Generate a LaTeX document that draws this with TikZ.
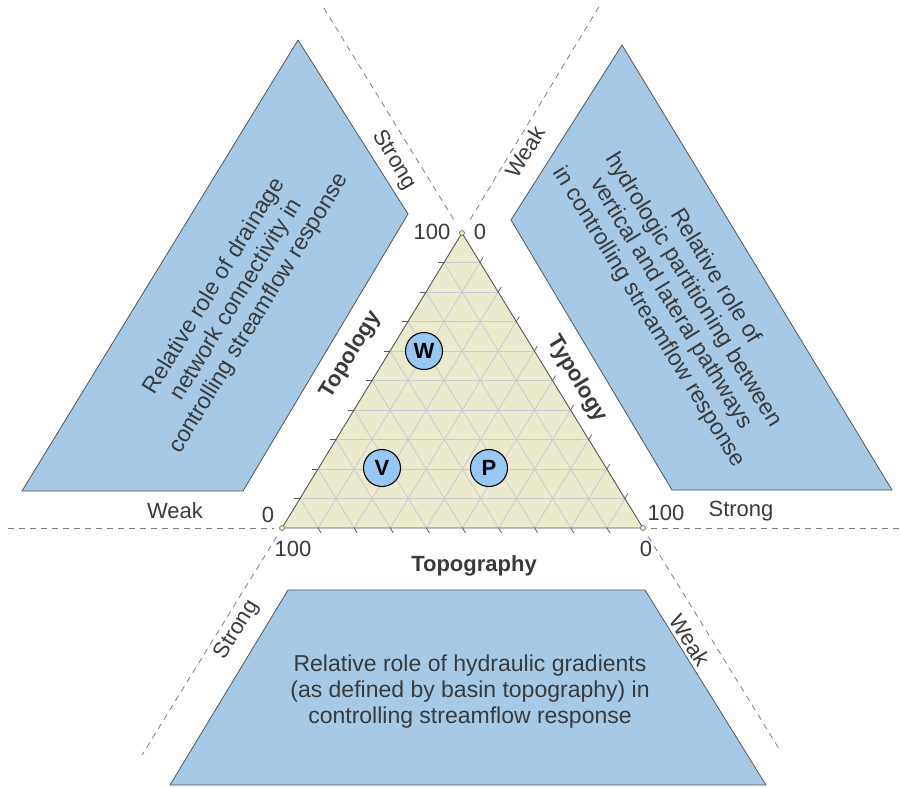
\documentclass[tikz,border=0pt]{standalone}
\usepackage{fontspec}
\setmainfont{Liberation Sans}
\usetikzlibrary{positioning}
\usetikzlibrary{calc}
\definecolor{roleblue}{RGB}{166,202,230}
\definecolor{basinblue}{RGB}{150,200,245}
\definecolor{ternfill}{RGB}{236,234,205}
\definecolor{gridgray}{RGB}{198,201,214}
\definecolor{ink}{RGB}{58,58,58}
\definecolor{edge}{RGB}{85,85,85}
\definecolor{guidegray}{RGB}{125,125,125}
\definecolor{cornerfill}{RGB}{240,236,190}
\newcommand{\upslant}{58.6}
\newcommand{\downslant}{-58.5}
\newcommand{\bigtext}{\fontsize{22}{26}\selectfont}
\newcommand{\roletextsize}{\fontsize{23}{26}\selectfont}
\tikzset{
    role/.style={fill=roleblue, draw=edge, line width=0.8pt, line join=round},
    roletext/.style={text=ink, align=center, font=\roletextsize, inner sep=0pt},
    strength/.style={text=ink, font=\bigtext, inner sep=0pt},
    axisname/.style={text=ink, font=\bfseries\bigtext, inner sep=0pt},
    guide/.style={draw=guidegray, line width=0.8pt, dash pattern=on 6pt off 5pt},
    gridline/.style={draw=gridgray, line width=0.8pt},
    tickmark/.style={draw=edge, line width=0.7pt},
    basin/.style={circle, draw=black, line width=1.1pt, fill=basinblue, minimum size=37pt, inner sep=0pt, font=\bfseries\fontsize{22}{26}\selectfont},
    corner/.style={circle, draw=edge, fill=cornerfill, line width=0.5pt, minimum size=5pt, inner sep=0pt},
}

\begin{document}
\begin{tikzpicture}[x=1pt, y=-1pt]
    \useasboundingbox (0,0) rectangle (901,787);
    \coordinate (top) at (462,233);
    \coordinate (left) at (282,528);
    \coordinate (right) at (643,528);
    \coordinate (nw) at (322,5);
    \coordinate (ne) at (600,5);
    \coordinate (sw) at (142,755);
    \coordinate (se) at (781,752);

    % dashed guides through the corners
    \draw[guide] (8,528) -- ($(left)!8pt!(8,528)$);
    \draw[guide] ($(right)!8pt!(901,528)$) -- (901,528);
    \draw[guide] ($(top)!16pt!(nw)$) -- (nw);
    \draw[guide] ($(top)!16pt!(ne)$) -- (ne);
    \draw[guide] ($(left)!10pt!(sw)$) -- (sw);
    \draw[guide] ($(right)!10pt!(se)$) -- (se);

    \draw[role] (298,40) -- (408,214) -- (243,491) -- (22,491) -- cycle;
    \draw[role] (622,45) -- (511,220) -- (672,490) -- (892,490) -- cycle;
    \draw[role] (288,590) -- (645,590) -- (766,785) -- (170,785) -- cycle;

    \node[roletext, rotate=\upslant] (drainage) at (237,300)
        {Relative role of drainage\\network connectivity in\\controlling streamflow response};
    \node[roletext, rotate=\downslant] (partition) at (682,297)
        {Relative role of\\hydrologic partitioning between\\vertical and lateral pathways\\in controlling streamflow response};
    \node[roletext] (gradient) at (470,692)
        {Relative role of hydraulic gradients\\(as defined by basin topography) in\\controlling streamflow response};

    \fill[ternfill] (top) -- (left) -- (right) -- cycle;
    \foreach \i in {1,...,9}{
        \pgfmathsetmacro{\t}{\i/10}
        \draw[gridline] ($(left)!\t!(top)$) -- ($(right)!\t!(top)$);
        \draw[gridline] ($(left)!\t!(right)$) -- ($(top)!\t!(right)$);
        \draw[gridline] ($(left)!\t!(right)$) -- ($(left)!\t!(top)$);
        \draw[tickmark] ($(left)!\t!(top)$) -- ++(-6,0);
        \draw[tickmark] ($(left)!\t!(right)$) -- ++(3,5);
        \draw[tickmark] ($(right)!\t!(top)$) -- ++(3,-5);
    }
    \draw[edge, line width=0.9pt, line join=round] (top) -- (left) -- (right) -- cycle;
    \node[corner] (c-top) at (top) {};
    \node[corner] (c-left) at (left) {};
    \node[corner] (c-right) at (right) {};

    \node[strength] (top-100) at (432,232) {100};
    \node[strength] (top-0) at (480,232) {0};
    \node[strength] (left-0) at (268,515) {0};
    \node[strength] (left-100) at (293,549) {100};
    \node[strength] (right-100) at (666,513) {100};
    \node[strength] (right-0) at (646,549) {0};

    \node[strength] (weak-w) at (175,511) {Weak};
    \node[strength] (strong-e) at (741,511) {Strong};
    \node[strength, rotate=\downslant] (strong-nw) at (394,160) {Strong};
    \node[strength, rotate=\upslant] (weak-ne) at (525,152) {Weak};
    \node[strength, rotate=\upslant] (strong-sw) at (237,630) {Strong};
    \node[strength, rotate=\downslant] (weak-se) at (690,640) {Weak};

    \node[axisname, rotate=\upslant] (topology) at (351,355) {Topology};
    \node[axisname, rotate=\downslant] (typology) at (577,379) {Typology};
    \node[axisname] (topography) at (474,566) {Topography};

    \node[basin] (W) at (424,351) {W};
    \node[basin] (V) at (382,468) {V};
    \node[basin] (P) at (489,468) {P};
\end{tikzpicture}
\end{document}
